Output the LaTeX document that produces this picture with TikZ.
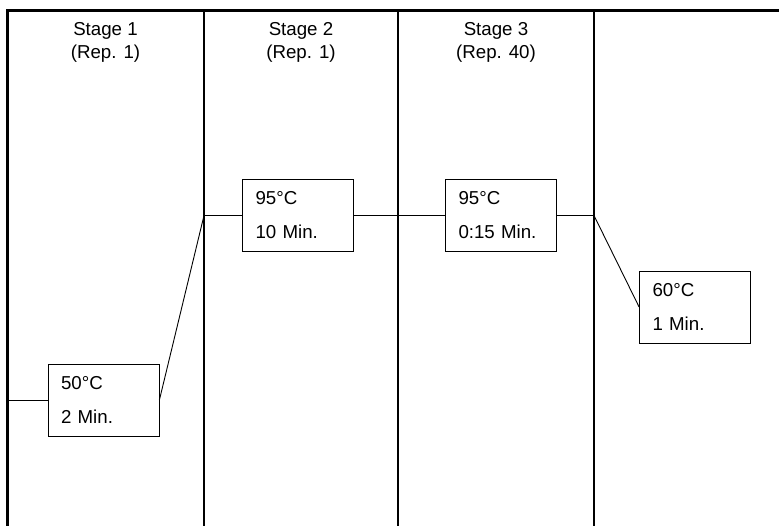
\documentclass[tikz,border=0pt]{standalone}
\usepackage{fontspec}
\setmainfont{Liberation Sans}
\usetikzlibrary{positioning}

\begin{document}
\begin{tikzpicture}[x=1pt,y=-1pt,
    stagebox/.style={draw,line width=0.8pt,rectangle,align=left,text width=85pt,
      inner xsep=13pt,minimum height=72pt,font=\fontsize{18.7}{34}\selectfont},
    head/.style={align=center,inner sep=0pt,font=\fontsize{18.7}{23}\selectfont},
    wire/.style={line width=0.9pt}]
  \useasboundingbox (0,0) rectangle (779,526);
  % frame and column rules
  \draw[line width=3pt] (7,526) -- (7,11) -- (779,11);
  \foreach \x in {204,398,594} {
      \draw[line width=1.2pt] (\x,11) -- (\x,526);
  }
  % stage headers
  \foreach \n/\x/\r in {1/105.5/1,2/301/1,3/496/40} {
      \node[head] (head\n) at (\x,42) {Stage \n\\(Rep. \r)};
  }
  % temperature steps
  \node[stagebox] (s1) at (103.5,400) {50°C\\2 Min.};
  \node[stagebox] (s2) at (298,215.5) {95°C\\10 Min.};
  \node[stagebox] (s3) at (501,215.5) {95°C\\0:15 Min.};
  \node[stagebox] (s4) at (695,307) {60°C\\1 Min.};
  % profile line
  \coordinate (start) at (8.5,400);
  \coordinate (up) at (204,215.5);
  \coordinate (down) at (594,215.5);
  \draw[wire] (start) -- (s1.west);
  \draw[wire] (s1.east) -- (up) -- (s2.west);
  \draw[wire] (s2.east) -- (s3.west);
  \draw[wire] (s3.east) -- (down) -- (s4.west);
\end{tikzpicture}
\end{document}
